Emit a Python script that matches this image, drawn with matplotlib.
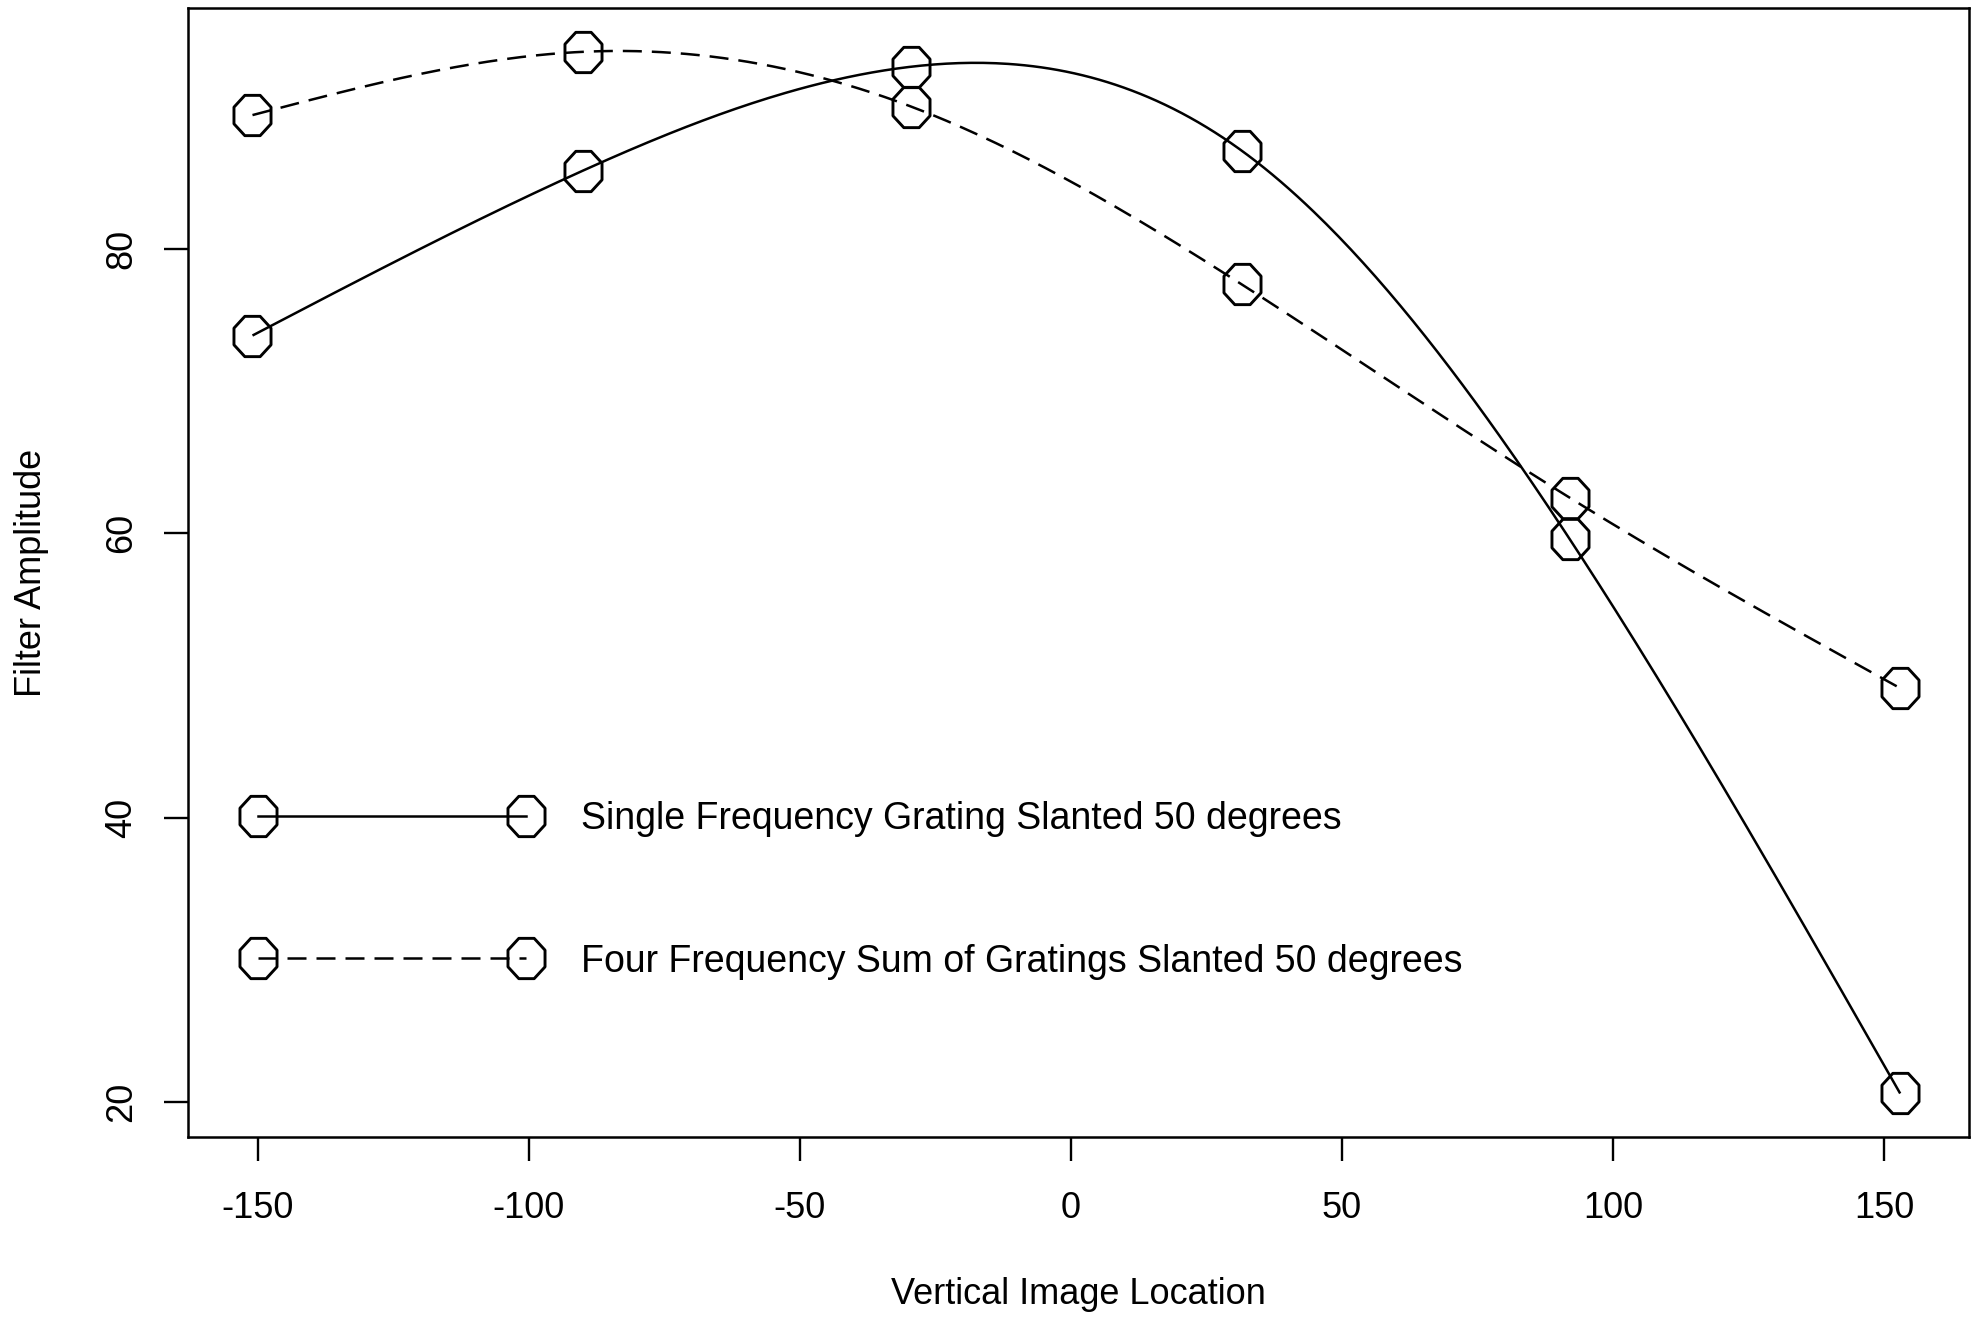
import numpy as np
import matplotlib
matplotlib.use("Agg")
import matplotlib.pyplot as plt
from matplotlib.path import Path
from matplotlib.lines import Line2D

# ---- data ----
x_loc = [-151, -90, -29.5, 31.5, 92, 153]
single_freq = [73.9, 85.5, 92.8, 86.9, 59.6, 20.6]
four_freq = [89.4, 93.85, 90.0, 77.5, 62.5, 49.1]
label_single = "Single Frequency Grating Slanted 50 degrees"
label_four = "Four Frequency Sum of Gratings Slanted 50 degrees"
x_ticks = [-150, -100, -50, 0, 50, 100, 150]
y_ticks = [20, 40, 60, 80]


def natural_spline(x, y, n=400):
    x = np.asarray(x, float)
    y = np.asarray(y, float)
    m = len(x)
    h = np.diff(x)
    A = np.zeros((m, m))
    r = np.zeros(m)
    A[0, 0] = A[-1, -1] = 1.0
    for i in range(1, m - 1):
        A[i, i - 1] = h[i - 1]
        A[i, i] = 2 * (h[i - 1] + h[i])
        A[i, i + 1] = h[i]
        r[i] = 6 * ((y[i + 1] - y[i]) / h[i] - (y[i] - y[i - 1]) / h[i - 1])
    M = np.linalg.solve(A, r)
    xs = np.linspace(x[0], x[-1], n)
    idx = np.clip(np.searchsorted(x, xs) - 1, 0, m - 2)
    x0, x1 = x[idx], x[idx + 1]
    hh = x1 - x0
    ys = (M[idx] * (x1 - xs) ** 3 / (6 * hh) + M[idx + 1] * (xs - x0) ** 3 / (6 * hh)
          + (y[idx] / hh - M[idx] * hh / 6) * (x1 - xs)
          + (y[idx + 1] / hh - M[idx + 1] * hh / 6) * (xs - x0))
    return xs, ys


plt.rcParams['font.family'] = ['Liberation Sans', 'DejaVu Sans']

W, H = 1980, 1320
fig = plt.figure(figsize=(W / 100, H / 100), dpi=100)
ax = fig.add_axes([188 / W, 1 - 1137 / H, (1969 - 188) / W, (1137 - 8) / H])

ang = np.deg2rad(22.5 + 45 * np.arange(8))
verts = np.column_stack([0.92 * np.cos(ang), np.sin(ang)])
octagon = Path(np.vstack([verts, verts[:1]]),
               [Path.MOVETO] + [Path.LINETO] * 7 + [Path.CLOSEPOLY])

lw = 1.8
dash = (0, (7.6, 4.0))
mk = dict(marker=octagon, markersize=29, markerfacecolor='none',
          markeredgecolor='black', markeredgewidth=2.1)

xs, ys = natural_spline(x_loc, single_freq)
ax.plot(xs, ys, color='black', lw=lw, solid_capstyle='butt')
ax.plot(x_loc, single_freq, linestyle='none', **mk)

xs, ys = natural_spline(x_loc, four_freq)
ax.plot(xs, ys, color='black', lw=lw, linestyle=dash)
ax.plot(x_loc, four_freq, linestyle='none', **mk)

ax.set_xlim(-162.9, 165.7)
ax.set_ylim(17.54, 96.93)
ax.set_xticks(x_ticks)
ax.set_yticks(y_ticks)
ax.set_xticklabels([str(v) for v in x_ticks])
ax.set_yticklabels([str(v) for v in y_ticks], rotation=90, va='center')
ax.tick_params(axis='x', length=17, width=1.7, pad=22, labelsize=26, direction='out')
ax.tick_params(axis='y', length=17, width=1.7, pad=18, labelsize=26, direction='out')
for s in ax.spines.values():
    s.set_linewidth(1.8)

ax.set_xlabel("Vertical Image Location", fontsize=26)
ax.xaxis.set_label_coords(0.5, -(1294 - 1137) / (1137 - 8))
ax.xaxis.label.set_verticalalignment('center')
ax.set_ylabel("Filter Amplitude", fontsize=26)
ax.yaxis.set_label_coords(-(188 - 32) / (1969 - 188), 0.5)
ax.yaxis.label.set_verticalalignment('center')

handles = [Line2D([], [], color='black', lw=lw, **mk),
           Line2D([], [], color='black', lw=lw, linestyle=dash, **mk)]
lfs = 27
fs_px = lfs * 100 / 72
mpx = (1969 - 188) / (165.7 + 162.9)
pad_units = 0.3 * fs_px / mpx
ax.legend(handles, [label_single, label_four], loc='center left',
          bbox_to_anchor=(-150 - pad_units, 34.9), bbox_transform=ax.transData,
          frameon=False, numpoints=2, fontsize=lfs, borderpad=0, borderaxespad=0,
          handlelength=(268 + 0.6 * fs_px) / fs_px, handletextpad=1.18,
          labelspacing=2.85)

fig.savefig("out.png", dpi=100)
